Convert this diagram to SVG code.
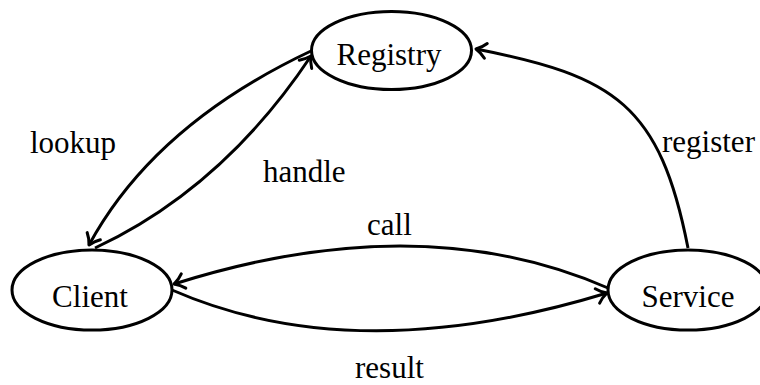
<svg xmlns="http://www.w3.org/2000/svg" width="760" height="385" viewBox="0 0 760 385">
  <style>
    .node { fill: #ffffff; stroke: #000000; stroke-width: 3; }
    .label { font-family: "Liberation Serif", "Times New Roman", serif; font-size: 31px; fill: #000000; }
    .edge { fill: none; stroke: #000000; stroke-width: 3; marker-end: url(#arrow); }
  </style>
  <defs>
    <marker id="arrow" markerUnits="userSpaceOnUse" viewBox="-12 -12 24 24" markerWidth="24" markerHeight="24" refX="0" refY="0" orient="auto" overflow="visible">
      <path d="M -10,-7.5 C -6,-3 -2,-1 0,0 C -2,1 -6,3 -10,7.5" fill="none" stroke="#000000" stroke-width="3" stroke-linecap="round" stroke-linejoin="round"/>
    </marker>
  </defs>
  <rect width="760" height="385" fill="#ffffff"/>

  <g id="edges">
    <!-- lookup: Registry to Client -->
    <path class="edge" d="M 311,51 Q 154,125 89,245"/>
    <!-- handle: Client to Registry -->
    <path class="edge" d="M 95,248 Q 223,188 311,56"/>
    <!-- register: Service to Registry -->
    <path class="edge" d="M 688,248 C 660,105 615,76 476,49"/>
    <!-- call: Service to Client -->
    <path class="edge" d="M 608,288 Q 420,206 174,284"/>
    <!-- result: Client to Service -->
    <path class="edge" d="M 172,290 Q 355,370 607,293"/>
  </g>

  <g id="edge-labels">
    <text class="label" x="30" y="153">lookup</text>
    <text class="label" x="263" y="182">handle</text>
    <text class="label" x="662" y="152">register</text>
    <text class="label" x="367" y="235">call</text>
    <text class="label" x="355" y="378">result</text>
  </g>

  <g id="registry">
    <ellipse class="node" cx="391.5" cy="50.5" rx="80" ry="39"/>
    <text class="label" x="389" y="65" text-anchor="middle">Registry</text>
  </g>
  <g id="client">
    <ellipse class="node" cx="92" cy="290" rx="80" ry="40"/>
    <text class="label" x="90" y="307" text-anchor="middle">Client</text>
  </g>
  <g id="service">
    <ellipse class="node" cx="688" cy="290" rx="80" ry="40"/>
    <text class="label" x="688" y="307" text-anchor="middle">Service</text>
  </g>
</svg>
